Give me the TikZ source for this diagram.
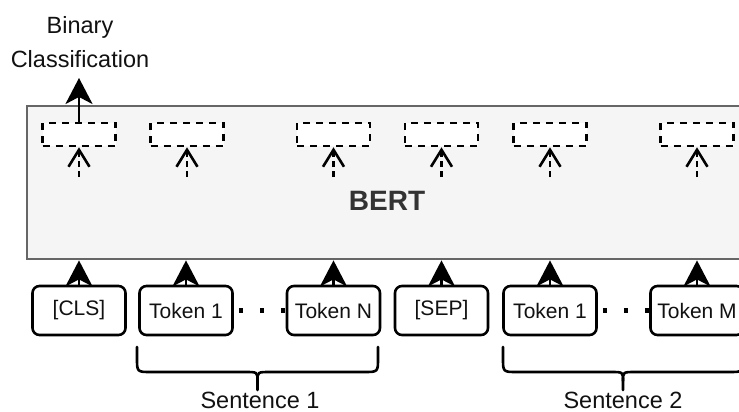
\documentclass[tikz,border=0pt]{standalone}
\usepackage{fontspec}
\setmainfont{Liberation Sans}
\usetikzlibrary{arrows.meta}
\definecolor{bertfill}{HTML}{F5F5F5}
\definecolor{bertline}{HTML}{666666}
\definecolor{berttext}{HTML}{333333}
\definecolor{ink}{HTML}{111111}
\begin{document}
\begin{tikzpicture}[x=1pt,y=-1pt,
 tokbox/.style={draw=black, fill=white, line width=2.6pt, rounded corners=7pt, minimum width=93pt, minimum height=49pt, inner sep=0pt, font=\fontsize{21}{25}\selectfont, text=ink},
 outbox/.style={draw=black, fill=white, line width=2.6pt, dash pattern=on 7pt off 6pt, minimum width=73pt, minimum height=23pt, inner sep=0pt},
 uparrow/.style={line width=2.6pt, -{Stealth[length=26pt,width=27pt,inset=7pt]}},
 dasharrow/.style={line width=2.6pt, dash pattern=on 6pt off 4pt, -{Straight Barb[length=17pt,width=21pt]}},
 dotline/.style={line width=4.5pt, dash pattern=on 4.5pt off 16.5pt, dash phase=16pt},
 bracestyle/.style={line width=2.6pt, line join=round, line cap=round},
 lbl/.style={font=\fontsize{23.5}{34}\selectfont, text=ink, align=center}]
\useasboundingbox (0,0) rectangle (739,412);
% BERT block
\node[draw=bertline, fill=bertfill, line width=2.8pt, minimum width=720pt, minimum height=153pt, inner sep=0pt] (bert) at (387,182.5) {};
\node[font=\bfseries\fontsize{28}{32}\selectfont, text=berttext] (berttxt) at (387,201) {BERT};
% output boxes
\node[outbox] (o1) at (79,134.5) {};
\node[outbox] (o2) at (187,134.5) {};
\node[outbox] (o3) at (333.5,134.5) {};
\node[outbox] (o4) at (441.5,134.5) {};
\node[outbox] (o5) at (550,134.5) {};
\node[outbox] (o6) at (697,134.5) {};
% dashed inner arrows
\coordinate (d1) at (79,177);
\coordinate (d2) at (187,177);
\coordinate (d3) at (333.5,177);
\coordinate (d4) at (441.5,177);
\coordinate (d5) at (550,177);
\coordinate (d6) at (697,177);
\draw[dasharrow] (d1) -- (o1.south);
\draw[dasharrow] (d2) -- (o2.south);
\draw[dasharrow] (d3) -- (o3.south);
\draw[dasharrow] (d4) -- (o4.south);
\draw[dasharrow] (d5) -- (o5.south);
\draw[dasharrow] (d6) -- (o6.south);
% classification
\coordinate (cl) at (79,78);
\draw[uparrow] (o1.north) -- (cl);
\node[lbl, anchor=base] (bin) at (80,67) {Binary\\Classification};
% tokens
\node[tokbox] (cls) at (79,310.5) {[CLS]};
\node[tokbox] (t1) at (186,310.5) {Token 1};
\node[tokbox] (tn) at (333.5,310.5) {Token N};
\node[tokbox] (sep) at (441.5,310.5) {[SEP]};
\node[tokbox] (s1) at (550,310.5) {Token 1};
\node[tokbox] (tm) at (697,310.5) {Token M};
\foreach \n in {cls,t1,tn,sep,s1,tm}{
  \draw[uparrow] (\n.north) -- (\n.north |- bert.south);
}
\draw[dotline] (t1.east) -- (tn.west);
\draw[dotline] (s1.east) -- (tm.west);
% braces
\draw[bracestyle] (137,347) -- (137,358) .. controls (137,372) .. (151,372) -- (245,372) .. controls (257.5,372) .. (257.5,381) -- (257.5,390);
\draw[bracestyle] (257.5,381) .. controls (257.5,372) .. (270,372) -- (364,372) .. controls (378,372) .. (378,358) -- (378,347);
\draw[bracestyle] (503,347) -- (503,358) .. controls (503,372) .. (517,372) -- (611,372) .. controls (623,372) .. (623,381) -- (623,390);
\draw[bracestyle] (623,381) .. controls (623,372) .. (635,372) -- (729,372) .. controls (743,372) .. (743,358) -- (743,347);
\node[lbl, anchor=base] (sen1) at (260,408) {Sentence 1};
\node[lbl, anchor=base] (sen2) at (623,408) {Sentence 2};
\end{tikzpicture}
\end{document}
